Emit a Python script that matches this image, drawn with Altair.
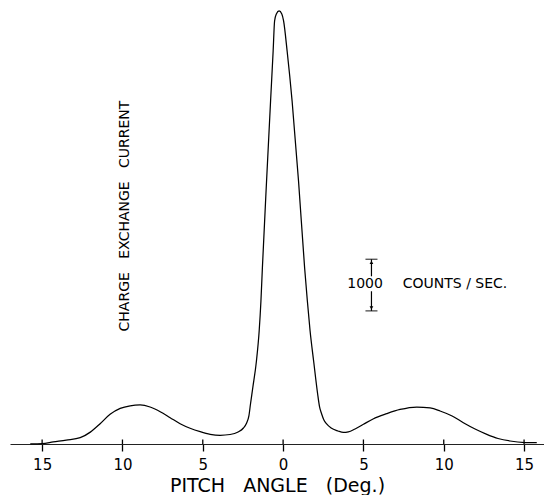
import altair as alt
import pandas as pd

# ---- data ----
pitch_deg = [-15.74, -15.0, -14.31, -13.5, -12.63, -12.0, -11.39, -10.77, -10.14, -9.52,
             -8.90, -8.28, -7.65, -7.03, -6.41, -5.79, -5.16, -4.54, -3.92, -3.30,
             -2.80, -2.47, -2.27, -2.13, -2.03, -1.89, -1.66, -1.49, -1.38, -1.29,
             -1.03, -0.78, -0.62, -0.53, -0.42, -0.25, -0.08, 0.03, 0.25, 0.56,
             0.96, 1.34, 1.51, 1.68, 1.90, 2.15, 2.26, 2.40, 2.54, 2.71,
             2.99, 3.42, 3.75, 4.06, 4.48, 5.00, 5.60, 6.45, 7.28, 8.32,
             9.15, 9.77, 10.52, 11.22, 11.95, 12.68, 13.38, 14.13, 15.06, 15.79]
counts = [0, 6, 39, 75, 122, 230, 393, 575, 690, 740,
          756, 717, 626, 510, 393, 305, 238, 188, 169, 184,
          233, 310, 407, 543, 775, 1085, 1609, 2190, 2771, 3411,
          5097, 6647, 7616, 8198, 8333, 8392, 8333, 8198, 7616, 6647,
          5097, 3411, 2771, 2190, 1609, 969, 736, 581, 465, 388,
          310, 252, 223, 233, 291, 382, 485, 587, 669, 717,
          698, 640, 543, 413, 291, 188, 107, 58, 29, 25]

tick_values = [-15, -10, -5, 0, 5, 10, 15]
x_domain = [-17, 16.24]
y_domain = [0, 8430]

# scale bar (1000 counts/sec)
bar_x = 5.5
bar_bottom = 2580
bar_length = 1000
bar_gap = [2960, 3250]

W, H = 534, 435
FONT = "DejaVu Sans"
NB = "\u00a0"

curve_df = pd.DataFrame({"pitch": pitch_deg, "counts": counts})
ticks_df = pd.DataFrame({"t": tick_values})

xs = alt.Scale(domain=x_domain, nice=False, zero=False)
ys = alt.Scale(domain=y_domain, nice=False, zero=False)

curve = alt.Chart(curve_df).mark_line(
    color="black", strokeWidth=1.25, interpolate="monotone"
).encode(
    x=alt.X("pitch:Q", scale=xs, axis=alt.Axis(
        values=tick_values, labelExpr="abs(datum.value)", grid=False,
        tickSize=7, tickColor="black", tickWidth=1.3,
        domainColor="#222", domainWidth=1.2,
        labelFont=FONT, labelFontSize=15, labelColor="black", labelPadding=6,
        title=f"PITCH{NB}{NB} ANGLE{NB}{NB} (Deg.)", titleFont=FONT, titleFontSize=19,
        titleFontWeight="normal", titleColor="black", titlePadding=4)),
    y=alt.Y("counts:Q", scale=ys, axis=None),
)

tick_up = alt.Chart(ticks_df).mark_rule(color="black", strokeWidth=1.3).encode(
    x=alt.X("t:Q", scale=xs), y=alt.value(H), y2=alt.value(H - 4.5)
)

bar_top = bar_bottom + bar_length
bar_df = pd.DataFrame({
    "x": [bar_x, bar_x], "y1": [bar_bottom, bar_gap[1]], "y2": [bar_gap[0], bar_top]
})
bar = alt.Chart(bar_df).mark_rule(color="black", strokeWidth=1.2).encode(
    x=alt.X("x:Q", scale=xs), y=alt.Y("y1:Q", scale=ys), y2="y2:Q"
)
caps = alt.Chart(pd.DataFrame({"x": [bar_x, bar_x], "y": [bar_bottom, bar_top]})).mark_tick(
    orient="horizontal", size=12, thickness=1.3, color="black"
).encode(x=alt.X("x:Q", scale=xs), y=alt.Y("y:Q", scale=ys))
arrows = alt.Chart(pd.DataFrame({
    "x": [bar_x, bar_x], "y": [bar_top - 60, bar_bottom + 60], "s": ["triangle-up", "triangle-down"]
})).mark_point(filled=True, size=14, color="black", opacity=1).encode(
    x=alt.X("x:Q", scale=xs), y=alt.Y("y:Q", scale=ys),
    shape=alt.Shape("s:N", scale=None, legend=None)
)

label_y = (bar_gap[0] + bar_gap[1]) / 2
txt_1000 = alt.Chart(pd.DataFrame({"x": [5.1], "y": [label_y], "t": ["1000"]})).mark_text(
    font=FONT, fontSize=14, color="black", align="center", baseline="middle"
).encode(x=alt.X("x:Q", scale=xs), y=alt.Y("y:Q", scale=ys), text="t:N")
txt_units = alt.Chart(pd.DataFrame({"x": [7.45], "y": [label_y], "t": ["COUNTS / SEC."]})).mark_text(
    font=FONT, fontSize=14, color="black", align="left", baseline="middle"
).encode(x=alt.X("x:Q", scale=xs), y=alt.Y("y:Q", scale=ys), text="t:N")

side = alt.Chart(pd.DataFrame({"x": [-9.83], "y": [4418],
                               "t": [f"CHARGE{NB}{NB} EXCHANGE{NB}{NB} CURRENT"]})).mark_text(
    font=FONT, fontSize=14, color="black", align="center", baseline="middle", angle=270
).encode(x=alt.X("x:Q", scale=xs), y=alt.Y("y:Q", scale=ys), text="t:N")

chart = alt.layer(curve, tick_up, bar, caps, arrows, txt_1000, txt_units, side).properties(
    width=W, height=H, padding={"left": 2, "top": 0, "right": 0, "bottom": 0},
    background="white"
).configure_view(stroke=None)

chart.save("out.html", embed_options={"renderer": "svg", "actions": False})
